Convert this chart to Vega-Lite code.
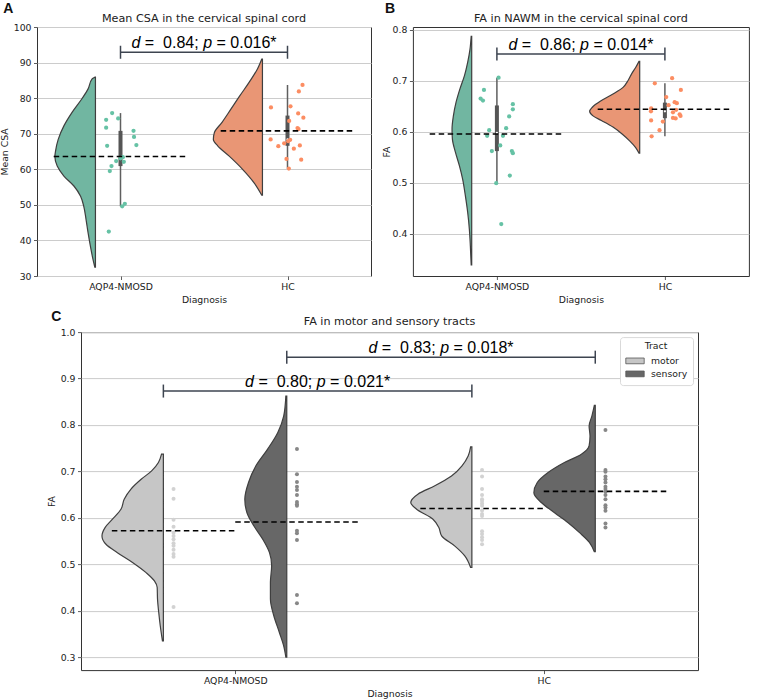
{
  "$schema": "https://vega.github.io/schema/vega-lite/v6.json",
  "background": "white",
  "padding": {"left": 0, "top": 2, "right": 0, "bottom": 0},
  "datasets": {
    "vio": [
      {"p":"A","g":"AQP4-NMOSD","v":85.9,"w":0.004},{"p":"A","g":"AQP4-NMOSD","v":85.4,"w":0.020},{"p":"A","g":"AQP4-NMOSD","v":82.6,"w":0.044},{"p":"A","g":"AQP4-NMOSD","v":79.9,"w":0.080},{"p":"A","g":"AQP4-NMOSD","v":76.0,"w":0.140},{"p":"A","g":"AQP4-NMOSD","v":72.2,"w":0.189},{"p":"A","g":"AQP4-NMOSD","v":68.4,"w":0.223},{"p":"A","g":"AQP4-NMOSD","v":65.1,"w":0.239},{"p":"A","g":"AQP4-NMOSD","v":63.6,"w":0.243},{"p":"A","g":"AQP4-NMOSD","v":60.9,"w":0.229},{"p":"A","g":"AQP4-NMOSD","v":58.1,"w":0.189},{"p":"A","g":"AQP4-NMOSD","v":55.3,"w":0.129},{"p":"A","g":"AQP4-NMOSD","v":52.4,"w":0.089},{"p":"A","g":"AQP4-NMOSD","v":49.6,"w":0.070},{"p":"A","g":"AQP4-NMOSD","v":45.8,"w":0.056},{"p":"A","g":"AQP4-NMOSD","v":42.1,"w":0.044},{"p":"A","g":"AQP4-NMOSD","v":38.3,"w":0.030},{"p":"A","g":"AQP4-NMOSD","v":34.5,"w":0.014},{"p":"A","g":"AQP4-NMOSD","v":32.5,"w":0.004},
      {"p":"A","g":"HC","v":91.0,"w":0.004},{"p":"A","g":"HC","v":88.2,"w":0.030},{"p":"A","g":"HC","v":84.5,"w":0.079},{"p":"A","g":"HC","v":80.7,"w":0.135},{"p":"A","g":"HC","v":76.9,"w":0.189},{"p":"A","g":"HC","v":73.2,"w":0.242},{"p":"A","g":"HC","v":70.3,"w":0.288},{"p":"A","g":"HC","v":68.4,"w":0.294},{"p":"A","g":"HC","v":66.6,"w":0.268},{"p":"A","g":"HC","v":63.7,"w":0.199},{"p":"A","g":"HC","v":60.0,"w":0.119},{"p":"A","g":"HC","v":56.2,"w":0.050},{"p":"A","g":"HC","v":52.7,"w":0.004},
      {"p":"B","g":"AQP4-NMOSD","v":0.787,"w":0.003},{"p":"B","g":"AQP4-NMOSD","v":0.762,"w":0.010},{"p":"B","g":"AQP4-NMOSD","v":0.736,"w":0.024},{"p":"B","g":"AQP4-NMOSD","v":0.710,"w":0.043},{"p":"B","g":"AQP4-NMOSD","v":0.684,"w":0.070},{"p":"B","g":"AQP4-NMOSD","v":0.658,"w":0.093},{"p":"B","g":"AQP4-NMOSD","v":0.631,"w":0.109},{"p":"B","g":"AQP4-NMOSD","v":0.605,"w":0.117},{"p":"B","g":"AQP4-NMOSD","v":0.586,"w":0.115},{"p":"B","g":"AQP4-NMOSD","v":0.560,"w":0.097},{"p":"B","g":"AQP4-NMOSD","v":0.533,"w":0.073},{"p":"B","g":"AQP4-NMOSD","v":0.507,"w":0.054},{"p":"B","g":"AQP4-NMOSD","v":0.475,"w":0.038},{"p":"B","g":"AQP4-NMOSD","v":0.442,"w":0.024},{"p":"B","g":"AQP4-NMOSD","v":0.409,"w":0.014},{"p":"B","g":"AQP4-NMOSD","v":0.376,"w":0.008},{"p":"B","g":"AQP4-NMOSD","v":0.339,"w":0.003},
      {"p":"B","g":"HC","v":0.738,"w":0.004},{"p":"B","g":"HC","v":0.726,"w":0.024},{"p":"B","g":"HC","v":0.713,"w":0.049},{"p":"B","g":"HC","v":0.700,"w":0.070},{"p":"B","g":"HC","v":0.687,"w":0.099},{"p":"B","g":"HC","v":0.674,"w":0.159},{"p":"B","g":"HC","v":0.661,"w":0.228},{"p":"B","g":"HC","v":0.648,"w":0.282},{"p":"B","g":"HC","v":0.640,"w":0.298},{"p":"B","g":"HC","v":0.631,"w":0.278},{"p":"B","g":"HC","v":0.622,"w":0.228},{"p":"B","g":"HC","v":0.609,"w":0.159},{"p":"B","g":"HC","v":0.595,"w":0.103},{"p":"B","g":"HC","v":0.582,"w":0.060},{"p":"B","g":"HC","v":0.569,"w":0.024},{"p":"B","g":"HC","v":0.558,"w":0.004},
      {"p":"C","g":"AQP4-NMOSD","t":"motor","v":0.737,"w":0.006},{"p":"C","g":"AQP4-NMOSD","t":"motor","v":0.719,"w":0.016},{"p":"C","g":"AQP4-NMOSD","t":"motor","v":0.701,"w":0.038},{"p":"C","g":"AQP4-NMOSD","t":"motor","v":0.683,"w":0.072},{"p":"C","g":"AQP4-NMOSD","t":"motor","v":0.662,"w":0.105},{"p":"C","g":"AQP4-NMOSD","t":"motor","v":0.640,"w":0.127},{"p":"C","g":"AQP4-NMOSD","t":"motor","v":0.619,"w":0.137},{"p":"C","g":"AQP4-NMOSD","t":"motor","v":0.597,"w":0.165},{"p":"C","g":"AQP4-NMOSD","t":"motor","v":0.579,"w":0.189},{"p":"C","g":"AQP4-NMOSD","t":"motor","v":0.561,"w":0.199},{"p":"C","g":"AQP4-NMOSD","t":"motor","v":0.543,"w":0.186},{"p":"C","g":"AQP4-NMOSD","t":"motor","v":0.525,"w":0.149},{"p":"C","g":"AQP4-NMOSD","t":"motor","v":0.504,"w":0.100},{"p":"C","g":"AQP4-NMOSD","t":"motor","v":0.482,"w":0.056},{"p":"C","g":"AQP4-NMOSD","t":"motor","v":0.464,"w":0.029},{"p":"C","g":"AQP4-NMOSD","t":"motor","v":0.450,"w":0.020},{"p":"C","g":"AQP4-NMOSD","t":"motor","v":0.425,"w":0.019},{"p":"C","g":"AQP4-NMOSD","t":"motor","v":0.396,"w":0.015},{"p":"C","g":"AQP4-NMOSD","t":"motor","v":0.367,"w":0.010},{"p":"C","g":"AQP4-NMOSD","t":"motor","v":0.335,"w":0.003},
      {"p":"C","g":"AQP4-NMOSD","t":"sensory","v":0.862,"w":0.003},{"p":"C","g":"AQP4-NMOSD","t":"sensory","v":0.819,"w":0.010},{"p":"C","g":"AQP4-NMOSD","t":"sensory","v":0.784,"w":0.029},{"p":"C","g":"AQP4-NMOSD","t":"sensory","v":0.748,"w":0.062},{"p":"C","g":"AQP4-NMOSD","t":"sensory","v":0.712,"w":0.100},{"p":"C","g":"AQP4-NMOSD","t":"sensory","v":0.676,"w":0.124},{"p":"C","g":"AQP4-NMOSD","t":"sensory","v":0.640,"w":0.136},{"p":"C","g":"AQP4-NMOSD","t":"sensory","v":0.611,"w":0.129},{"p":"C","g":"AQP4-NMOSD","t":"sensory","v":0.583,"w":0.107},{"p":"C","g":"AQP4-NMOSD","t":"sensory","v":0.554,"w":0.078},{"p":"C","g":"AQP4-NMOSD","t":"sensory","v":0.525,"w":0.056},{"p":"C","g":"AQP4-NMOSD","t":"sensory","v":0.497,"w":0.049},{"p":"C","g":"AQP4-NMOSD","t":"sensory","v":0.461,"w":0.053},{"p":"C","g":"AQP4-NMOSD","t":"sensory","v":0.425,"w":0.053},{"p":"C","g":"AQP4-NMOSD","t":"sensory","v":0.389,"w":0.042},{"p":"C","g":"AQP4-NMOSD","t":"sensory","v":0.353,"w":0.024},{"p":"C","g":"AQP4-NMOSD","t":"sensory","v":0.324,"w":0.010},{"p":"C","g":"AQP4-NMOSD","t":"sensory","v":0.300,"w":0.003},
      {"p":"C","g":"HC","t":"motor","v":0.753,"w":0.004},{"p":"C","g":"HC","t":"motor","v":0.733,"w":0.012},{"p":"C","g":"HC","t":"motor","v":0.712,"w":0.032},{"p":"C","g":"HC","t":"motor","v":0.690,"w":0.066},{"p":"C","g":"HC","t":"motor","v":0.669,"w":0.120},{"p":"C","g":"HC","t":"motor","v":0.651,"w":0.175},{"p":"C","g":"HC","t":"motor","v":0.633,"w":0.198},{"p":"C","g":"HC","t":"motor","v":0.619,"w":0.180},{"p":"C","g":"HC","t":"motor","v":0.597,"w":0.126},{"p":"C","g":"HC","t":"motor","v":0.579,"w":0.107},{"p":"C","g":"HC","t":"motor","v":0.561,"w":0.098},{"p":"C","g":"HC","t":"motor","v":0.539,"w":0.055},{"p":"C","g":"HC","t":"motor","v":0.518,"w":0.023},{"p":"C","g":"HC","t":"motor","v":0.493,"w":0.004},
      {"p":"C","g":"HC","t":"sensory","v":0.842,"w":0.003},{"p":"C","g":"HC","t":"sensory","v":0.819,"w":0.011},{"p":"C","g":"HC","t":"sensory","v":0.798,"w":0.020},{"p":"C","g":"HC","t":"sensory","v":0.776,"w":0.017},{"p":"C","g":"HC","t":"sensory","v":0.755,"w":0.020},{"p":"C","g":"HC","t":"sensory","v":0.737,"w":0.045},{"p":"C","g":"HC","t":"sensory","v":0.719,"w":0.100},{"p":"C","g":"HC","t":"sensory","v":0.697,"w":0.154},{"p":"C","g":"HC","t":"sensory","v":0.676,"w":0.188},{"p":"C","g":"HC","t":"sensory","v":0.654,"w":0.199},{"p":"C","g":"HC","t":"sensory","v":0.633,"w":0.175},{"p":"C","g":"HC","t":"sensory","v":0.611,"w":0.132},{"p":"C","g":"HC","t":"sensory","v":0.590,"w":0.089},{"p":"C","g":"HC","t":"sensory","v":0.568,"w":0.051},{"p":"C","g":"HC","t":"sensory","v":0.547,"w":0.019},{"p":"C","g":"HC","t":"sensory","v":0.527,"w":0.003}
    ],
    "pts": [
      {"p":"A","g":"AQP4-NMOSD","v":75.8,"j":-0.05},{"p":"A","g":"AQP4-NMOSD","v":73.9,"j":-0.086},{"p":"A","g":"AQP4-NMOSD","v":74.3,"j":-0.014},{"p":"A","g":"AQP4-NMOSD","v":71.7,"j":-0.086},{"p":"A","g":"AQP4-NMOSD","v":70.8,"j":0.078},{"p":"A","g":"AQP4-NMOSD","v":69.1,"j":0.081},{"p":"A","g":"AQP4-NMOSD","v":66.8,"j":0.095},{"p":"A","g":"AQP4-NMOSD","v":66.6,"j":-0.080},{"p":"A","g":"AQP4-NMOSD","v":63.1,"j":0.0},{"p":"A","g":"AQP4-NMOSD","v":63.4,"j":0.014},{"p":"A","g":"AQP4-NMOSD","v":62.3,"j":-0.026},{"p":"A","g":"AQP4-NMOSD","v":62.1,"j":0.020},{"p":"A","g":"AQP4-NMOSD","v":60.9,"j":-0.054},{"p":"A","g":"AQP4-NMOSD","v":59.5,"j":-0.064},{"p":"A","g":"AQP4-NMOSD","v":49.6,"j":0.010},{"p":"A","g":"AQP4-NMOSD","v":50.3,"j":0.026},{"p":"A","g":"AQP4-NMOSD","v":42.5,"j":-0.070},
      {"p":"A","g":"HC","v":83.7,"j":0.090},{"p":"A","g":"HC","v":81.9,"j":0.068},{"p":"A","g":"HC","v":77.7,"j":0.018},{"p":"A","g":"HC","v":77.4,"j":-0.099},{"p":"A","g":"HC","v":75.7,"j":0.064},{"p":"A","g":"HC","v":74.5,"j":0.095},{"p":"A","g":"HC","v":73.6,"j":0.010},{"p":"A","g":"HC","v":71.6,"j":0.060},{"p":"A","g":"HC","v":71.3,"j":0.066},{"p":"A","g":"HC","v":68.4,"j":-0.101},{"p":"A","g":"HC","v":68.3,"j":0.016},{"p":"A","g":"HC","v":67.9,"j":0.004},{"p":"A","g":"HC","v":67.3,"j":-0.020},{"p":"A","g":"HC","v":66.7,"j":0.074},{"p":"A","g":"HC","v":66.5,"j":-0.055},{"p":"A","g":"HC","v":65.8,"j":0.038},{"p":"A","g":"HC","v":62.9,"j":-0.006},{"p":"A","g":"HC","v":62.7,"j":0.082},{"p":"A","g":"HC","v":60.2,"j":0.008},
      {"p":"B","g":"AQP4-NMOSD","v":0.706,"j":0.010},{"p":"B","g":"AQP4-NMOSD","v":0.682,"j":-0.077},{"p":"B","g":"AQP4-NMOSD","v":0.665,"j":-0.097},{"p":"B","g":"AQP4-NMOSD","v":0.661,"j":-0.083},{"p":"B","g":"AQP4-NMOSD","v":0.654,"j":0.095},{"p":"B","g":"AQP4-NMOSD","v":0.644,"j":0.095},{"p":"B","g":"AQP4-NMOSD","v":0.630,"j":0.073},{"p":"B","g":"AQP4-NMOSD","v":0.607,"j":0.055},{"p":"B","g":"AQP4-NMOSD","v":0.603,"j":-0.046},{"p":"B","g":"AQP4-NMOSD","v":0.592,"j":-0.058},{"p":"B","g":"AQP4-NMOSD","v":0.592,"j":0.036},{"p":"B","g":"AQP4-NMOSD","v":0.573,"j":0.020},{"p":"B","g":"AQP4-NMOSD","v":0.562,"j":-0.030},{"p":"B","g":"AQP4-NMOSD","v":0.562,"j":0.089},{"p":"B","g":"AQP4-NMOSD","v":0.558,"j":0.095},{"p":"B","g":"AQP4-NMOSD","v":0.514,"j":0.077},{"p":"B","g":"AQP4-NMOSD","v":0.499,"j":-0.004},{"p":"B","g":"AQP4-NMOSD","v":0.419,"j":0.026},
      {"p":"B","g":"HC","v":0.705,"j":0.043},{"p":"B","g":"HC","v":0.695,"j":-0.060},{"p":"B","g":"HC","v":0.682,"j":0.095},{"p":"B","g":"HC","v":0.668,"j":0.008},{"p":"B","g":"HC","v":0.658,"j":0.058},{"p":"B","g":"HC","v":0.656,"j":0.071},{"p":"B","g":"HC","v":0.652,"j":0.022},{"p":"B","g":"HC","v":0.646,"j":-0.082},{"p":"B","g":"HC","v":0.643,"j":0.067},{"p":"B","g":"HC","v":0.640,"j":-0.083},{"p":"B","g":"HC","v":0.638,"j":0.048},{"p":"B","g":"HC","v":0.634,"j":0.088},{"p":"B","g":"HC","v":0.631,"j":0.093},{"p":"B","g":"HC","v":0.627,"j":0.048},{"p":"B","g":"HC","v":0.626,"j":0.064},{"p":"B","g":"HC","v":0.622,"j":-0.082},{"p":"B","g":"HC","v":0.620,"j":-0.012},{"p":"B","g":"HC","v":0.603,"j":-0.032},{"p":"B","g":"HC","v":0.591,"j":-0.079},
      {"p":"C","g":"AQP4-NMOSD","t":"motor","v":0.662},{"p":"C","g":"AQP4-NMOSD","t":"motor","v":0.641},{"p":"C","g":"AQP4-NMOSD","t":"motor","v":0.596},{"p":"C","g":"AQP4-NMOSD","t":"motor","v":0.581},{"p":"C","g":"AQP4-NMOSD","t":"motor","v":0.568},{"p":"C","g":"AQP4-NMOSD","t":"motor","v":0.561},{"p":"C","g":"AQP4-NMOSD","t":"motor","v":0.554},{"p":"C","g":"AQP4-NMOSD","t":"motor","v":0.545},{"p":"C","g":"AQP4-NMOSD","t":"motor","v":0.540},{"p":"C","g":"AQP4-NMOSD","t":"motor","v":0.531},{"p":"C","g":"AQP4-NMOSD","t":"motor","v":0.522},{"p":"C","g":"AQP4-NMOSD","t":"motor","v":0.516},{"p":"C","g":"AQP4-NMOSD","t":"motor","v":0.408},
      {"p":"C","g":"AQP4-NMOSD","t":"sensory","v":0.748},{"p":"C","g":"AQP4-NMOSD","t":"sensory","v":0.694},{"p":"C","g":"AQP4-NMOSD","t":"sensory","v":0.677},{"p":"C","g":"AQP4-NMOSD","t":"sensory","v":0.667},{"p":"C","g":"AQP4-NMOSD","t":"sensory","v":0.660},{"p":"C","g":"AQP4-NMOSD","t":"sensory","v":0.649},{"p":"C","g":"AQP4-NMOSD","t":"sensory","v":0.634},{"p":"C","g":"AQP4-NMOSD","t":"sensory","v":0.629},{"p":"C","g":"AQP4-NMOSD","t":"sensory","v":0.626},{"p":"C","g":"AQP4-NMOSD","t":"sensory","v":0.572},{"p":"C","g":"AQP4-NMOSD","t":"sensory","v":0.567},{"p":"C","g":"AQP4-NMOSD","t":"sensory","v":0.552},{"p":"C","g":"AQP4-NMOSD","t":"sensory","v":0.434},{"p":"C","g":"AQP4-NMOSD","t":"sensory","v":0.416},
      {"p":"C","g":"HC","t":"motor","v":0.703},{"p":"C","g":"HC","t":"motor","v":0.689},{"p":"C","g":"HC","t":"motor","v":0.662},{"p":"C","g":"HC","t":"motor","v":0.649},{"p":"C","g":"HC","t":"motor","v":0.640},{"p":"C","g":"HC","t":"motor","v":0.636},{"p":"C","g":"HC","t":"motor","v":0.631},{"p":"C","g":"HC","t":"motor","v":0.626},{"p":"C","g":"HC","t":"motor","v":0.616},{"p":"C","g":"HC","t":"motor","v":0.608},{"p":"C","g":"HC","t":"motor","v":0.604},{"p":"C","g":"HC","t":"motor","v":0.571},{"p":"C","g":"HC","t":"motor","v":0.565},{"p":"C","g":"HC","t":"motor","v":0.558},{"p":"C","g":"HC","t":"motor","v":0.552},{"p":"C","g":"HC","t":"motor","v":0.543},
      {"p":"C","g":"HC","t":"sensory","v":0.789},{"p":"C","g":"HC","t":"sensory","v":0.703},{"p":"C","g":"HC","t":"sensory","v":0.699},{"p":"C","g":"HC","t":"sensory","v":0.689},{"p":"C","g":"HC","t":"sensory","v":0.683},{"p":"C","g":"HC","t":"sensory","v":0.676},{"p":"C","g":"HC","t":"sensory","v":0.667},{"p":"C","g":"HC","t":"sensory","v":0.662},{"p":"C","g":"HC","t":"sensory","v":0.656},{"p":"C","g":"HC","t":"sensory","v":0.649},{"p":"C","g":"HC","t":"sensory","v":0.640},{"p":"C","g":"HC","t":"sensory","v":0.627},{"p":"C","g":"HC","t":"sensory","v":0.622},{"p":"C","g":"HC","t":"sensory","v":0.615},{"p":"C","g":"HC","t":"sensory","v":0.588},{"p":"C","g":"HC","t":"sensory","v":0.579}
    ],
    "means": [
      {"p":"A","g":"AQP4-NMOSD","m":63.6},{"p":"A","g":"HC","m":70.8},
      {"p":"B","g":"AQP4-NMOSD","m":0.5955},{"p":"B","g":"HC","m":0.644},
      {"p":"C","g":"AQP4-NMOSD","t":"motor","m":0.572},{"p":"C","g":"AQP4-NMOSD","t":"sensory","m":0.591},
      {"p":"C","g":"HC","t":"motor","m":0.620},{"p":"C","g":"HC","t":"sensory","m":0.657}
    ],
    "br": [
      {"p":"A","y":92.9,"dv":"0.84","pv":"0.016*"},
      {"p":"B","y":0.7524,"dv":"0.86","pv":"0.014*"},
      {"p":"C","t":"sensory","y":0.946,"dv":"0.83","pv":"0.018*"},
      {"p":"C","t":"motor","y":0.873,"dv":"0.80","pv":"0.021*"}
    ]
  },
  "config": {
    "font": "DejaVu Sans",
    "view": {"stroke": "#333333", "strokeWidth": 1},
    "axis": {
      "labelFont": "DejaVu Sans", "labelFontSize": 9.3, "labelColor": "#222222", "labelOverlap": false,
      "titleFont": "DejaVu Sans", "titleFontSize": 9.3, "titleFontWeight": "normal", "titleColor": "#222222",
      "tickColor": "#333333", "tickSize": 3.5, "tickWidth": 0.8, "domain": false,
      "gridColor": "#cccccc", "gridWidth": 1, "labelPadding": 2.5
    },
    "legend": {"labelFont": "DejaVu Sans", "labelFontSize": 9.3, "labelColor": "#222222", "titleFont": "DejaVu Sans", "titleFontSize": 9.3, "titleFontWeight": "normal", "titleColor": "#222222"}
  },
  "resolve": {"scale": {"color": "independent"}, "legend": {"color": "independent"}},
  "spacing": 3.1,
  "vconcat": [
    {
      "spacing": 9.9,
      "resolve": {"scale": {"color": "independent"}, "legend": {"color": "independent"}},
      "hconcat": [
        {
          "title": {"text": "A", "anchor": "start", "frame": "bounds", "font": "Liberation Sans", "fontSize": 14, "fontWeight": "bold", "color": "#111111", "baseline": "alphabetic", "offset": -14.6, "dx": 3},
          "vconcat": [
            {
              "width": 334, "height": 249,
              "title": {"text": "Mean CSA in the cervical spinal cord", "anchor": "middle", "frame": "group", "font": "DejaVu Sans", "fontSize": 11.2, "fontWeight": "normal", "color": "#222222", "baseline": "alphabetic", "offset": -10.2},
              "layer": [
                {
                  "data": {"name": "vio"},
                  "transform": [
                    {"filter": "datum.p == 'A'"},
                    {"calculate": "(datum.g == 'HC' ? 1 : 0) - 0.15", "as": "xr"},
                    {"calculate": "datum.xr - datum.w", "as": "xl"}
                  ],
                  "mark": {"type": "area", "orient": "horizontal", "interpolate": "monotone", "stroke": "#3f3f3f", "strokeWidth": 1.2},
                  "encoding": {
                    "y": {"field": "v", "type": "quantitative", "scale": {"domain": [30, 100], "nice": false, "zero": false},
                          "axis": {"title": "Mean CSA", "values": [30, 40, 50, 60, 70, 80, 90, 100], "tickCount": 12, "grid": true, "titlePadding": 3.5}},
                    "x": {"field": "xl", "type": "quantitative", "stack": null, "scale": {"domain": [-0.5, 1.5], "nice": false, "zero": false},
                          "axis": {"title": "Diagnosis", "values": [0, 1], "labelExpr": "datum.value == 0 ? 'AQP4-NMOSD' : 'HC'", "grid": false, "titlePadding": 4}},
                    "x2": {"field": "xr"},
                    "detail": {"field": "g"},
                    "fill": {"condition": {"test": "datum.g == 'HC'", "value": "#e99675"}, "value": "#71b6a1"}
                  }
                },
                {
                  "data": {"name": "pts"},
                  "transform": [
                    {"filter": "datum.p == 'A'"},
                    {"joinaggregate": [{"op": "q1", "field": "v", "as": "q1"}, {"op": "q3", "field": "v", "as": "q3"}, {"op": "median", "field": "v", "as": "med"}], "groupby": ["g"]},
                    {"filter": "datum.v >= datum.q1 - 1.5 * (datum.q3 - datum.q1) && datum.v <= datum.q3 + 1.5 * (datum.q3 - datum.q1)"},
                    {"aggregate": [{"op": "min", "field": "v", "as": "lo"}, {"op": "max", "field": "v", "as": "hi"}, {"op": "min", "field": "q1", "as": "q1"}, {"op": "max", "field": "q3", "as": "q3"}, {"op": "min", "field": "med", "as": "med"}], "groupby": ["g"]},
                    {"calculate": "datum.g == 'HC' ? 1 : 0", "as": "c"}
                  ],
                  "layer": [
                    {"mark": {"type": "rule", "color": "#5f5f5f", "strokeWidth": 1.5},
                     "encoding": {"x": {"field": "c", "type": "quantitative"}, "y": {"field": "lo", "type": "quantitative"}, "y2": {"field": "hi"}}},
                    {"mark": {"type": "rule", "color": "#555555", "strokeWidth": 4},
                     "encoding": {"x": {"field": "c", "type": "quantitative"}, "y": {"field": "q1", "type": "quantitative"}, "y2": {"field": "q3"}}},
                    {"mark": {"type": "point", "filled": true, "color": "white", "size": 5, "opacity": 1},
                     "encoding": {"x": {"field": "c", "type": "quantitative"}, "y": {"field": "med", "type": "quantitative"}}}
                  ]
                },
                {
                  "data": {"name": "pts"},
                  "transform": [
                    {"filter": "datum.p == 'A'"},
                    {"calculate": "(datum.g == 'HC' ? 1 : 0) + datum.j", "as": "x"}
                  ],
                  "mark": {"type": "circle", "size": 18, "opacity": 1},
                  "encoding": {
                    "x": {"field": "x", "type": "quantitative"},
                    "y": {"field": "v", "type": "quantitative"},
                    "color": {"condition": {"test": "datum.g == 'HC'", "value": "#fc8d62"}, "value": "#66c2a5"}
                  }
                },
                {
                  "data": {"name": "means"},
                  "transform": [
                    {"filter": "datum.p == 'A'"},
                    {"calculate": "(datum.g == 'HC' ? 1 : 0) - 0.4", "as": "x1"},
                    {"calculate": "datum.x1 + 0.8", "as": "x2"}
                  ],
                  "mark": {"type": "rule", "color": "#000000", "strokeWidth": 1.6, "strokeDash": [5.5, 3.5]},
                  "encoding": {"x": {"field": "x1", "type": "quantitative"}, "x2": {"field": "x2"}, "y": {"field": "m", "type": "quantitative"}}
                },
                {
                  "data": {"name": "br"},
                  "transform": [
                    {"filter": "datum.p == 'A'"},
                    {"calculate": "0", "as": "a"},
                    {"calculate": "1", "as": "b"},
                    {"calculate": "(datum.a + datum.b) / 2", "as": "mid"},
                    {"calculate": "datum.dv + ';'", "as": "dt"}
                  ],
                  "encoding": {"x": {"field": "mid", "type": "quantitative"}, "y": {"field": "y", "type": "quantitative"}},
                  "layer": [
                    {"mark": {"type": "rule", "color": "#3d4450", "strokeWidth": 1.5},
                     "encoding": {"x": {"field": "a", "type": "quantitative"}, "x2": {"field": "b"}}},
                    {"transform": [{"fold": ["a", "b"], "as": ["end", "ex"]}],
                     "mark": {"type": "tick", "orient": "vertical", "size": 13, "thickness": 1.5, "color": "#3d4450", "opacity": 1},
                     "encoding": {"x": {"field": "ex", "type": "quantitative"}}},
                    {"mark": {"type": "text", "font": "Liberation Sans", "fontSize": 16, "fontStyle": "italic", "align": "left", "baseline": "alphabetic", "dx": -72.5, "dy": -4, "color": "#000000"}, "encoding": {"text": {"value": "d"}}},
                    {"mark": {"type": "text", "font": "Liberation Sans", "fontSize": 16, "align": "left", "baseline": "alphabetic", "dx": -59.15, "dy": -4, "color": "#000000"}, "encoding": {"text": {"value": "="}}},
                    {"mark": {"type": "text", "font": "Liberation Sans", "fontSize": 16, "align": "left", "baseline": "alphabetic", "dx": -40.9, "dy": -4, "color": "#000000"}, "encoding": {"text": {"field": "dt"}}},
                    {"mark": {"type": "text", "font": "Liberation Sans", "fontSize": 16, "fontStyle": "italic", "align": "left", "baseline": "alphabetic", "dx": -0.85, "dy": -4, "color": "#000000"}, "encoding": {"text": {"value": "p"}}},
                    {"mark": {"type": "text", "font": "Liberation Sans", "fontSize": 16, "align": "left", "baseline": "alphabetic", "dx": 12.5, "dy": -4, "color": "#000000"}, "encoding": {"text": {"value": "="}}},
                    {"mark": {"type": "text", "font": "Liberation Sans", "fontSize": 16, "align": "left", "baseline": "alphabetic", "dx": 26.3, "dy": -4, "color": "#000000"}, "encoding": {"text": {"field": "pv"}}}
                  ]
                }
              ]
            }
          ]
        },
        {
          "title": {"text": "B", "anchor": "start", "frame": "bounds", "font": "Liberation Sans", "fontSize": 14, "fontWeight": "bold", "color": "#111111", "baseline": "alphabetic", "offset": -14.6, "dx": 3},
          "vconcat": [
            {
              "width": 336, "height": 249,
              "title": {"text": "FA in NAWM in the cervical spinal cord", "anchor": "middle", "frame": "group", "font": "DejaVu Sans", "fontSize": 11.2, "fontWeight": "normal", "color": "#222222", "baseline": "alphabetic", "offset": -7.5},
              "layer": [
                {
                  "data": {"name": "vio"},
                  "transform": [
                    {"filter": "datum.p == 'B'"},
                    {"calculate": "(datum.g == 'HC' ? 1 : 0) - 0.15", "as": "xr"},
                    {"calculate": "datum.xr - datum.w", "as": "xl"}
                  ],
                  "mark": {"type": "area", "orient": "horizontal", "interpolate": "monotone", "stroke": "#3f3f3f", "strokeWidth": 1.2},
                  "encoding": {
                    "y": {"field": "v", "type": "quantitative", "scale": {"domain": [0.3171, 0.8053], "nice": false, "zero": false},
                          "axis": {"title": "FA", "values": [0.4, 0.5, 0.6, 0.7, 0.8], "tickCount": 12, "format": ".1f", "grid": true, "titlePadding": 0.5}},
                    "x": {"field": "xl", "type": "quantitative", "stack": null, "scale": {"domain": [-0.5, 1.5], "nice": false, "zero": false},
                          "axis": {"title": "Diagnosis", "values": [0, 1], "labelExpr": "datum.value == 0 ? 'AQP4-NMOSD' : 'HC'", "grid": false, "titlePadding": 4}},
                    "x2": {"field": "xr"},
                    "detail": {"field": "g"},
                    "fill": {"condition": {"test": "datum.g == 'HC'", "value": "#e99675"}, "value": "#71b6a1"}
                  }
                },
                {
                  "data": {"name": "pts"},
                  "transform": [
                    {"filter": "datum.p == 'B'"},
                    {"joinaggregate": [{"op": "q1", "field": "v", "as": "q1"}, {"op": "q3", "field": "v", "as": "q3"}, {"op": "median", "field": "v", "as": "med"}], "groupby": ["g"]},
                    {"filter": "datum.v >= datum.q1 - 1.5 * (datum.q3 - datum.q1) && datum.v <= datum.q3 + 1.5 * (datum.q3 - datum.q1)"},
                    {"aggregate": [{"op": "min", "field": "v", "as": "lo"}, {"op": "max", "field": "v", "as": "hi"}, {"op": "min", "field": "q1", "as": "q1"}, {"op": "max", "field": "q3", "as": "q3"}, {"op": "min", "field": "med", "as": "med"}], "groupby": ["g"]},
                    {"calculate": "datum.g == 'HC' ? 1 : 0", "as": "c"}
                  ],
                  "layer": [
                    {"mark": {"type": "rule", "color": "#5f5f5f", "strokeWidth": 1.5},
                     "encoding": {"x": {"field": "c", "type": "quantitative"}, "y": {"field": "lo", "type": "quantitative"}, "y2": {"field": "hi"}}},
                    {"mark": {"type": "rule", "color": "#555555", "strokeWidth": 4},
                     "encoding": {"x": {"field": "c", "type": "quantitative"}, "y": {"field": "q1", "type": "quantitative"}, "y2": {"field": "q3"}}},
                    {"mark": {"type": "point", "filled": true, "color": "white", "size": 5, "opacity": 1},
                     "encoding": {"x": {"field": "c", "type": "quantitative"}, "y": {"field": "med", "type": "quantitative"}}}
                  ]
                },
                {
                  "data": {"name": "pts"},
                  "transform": [
                    {"filter": "datum.p == 'B'"},
                    {"calculate": "(datum.g == 'HC' ? 1 : 0) + datum.j", "as": "x"}
                  ],
                  "mark": {"type": "circle", "size": 18, "opacity": 1},
                  "encoding": {
                    "x": {"field": "x", "type": "quantitative"},
                    "y": {"field": "v", "type": "quantitative"},
                    "color": {"condition": {"test": "datum.g == 'HC'", "value": "#fc8d62"}, "value": "#66c2a5"}
                  }
                },
                {
                  "data": {"name": "means"},
                  "transform": [
                    {"filter": "datum.p == 'B'"},
                    {"calculate": "(datum.g == 'HC' ? 1 : 0) - 0.4", "as": "x1"},
                    {"calculate": "datum.x1 + 0.8", "as": "x2"}
                  ],
                  "mark": {"type": "rule", "color": "#000000", "strokeWidth": 1.6, "strokeDash": [5.5, 3.5]},
                  "encoding": {"x": {"field": "x1", "type": "quantitative"}, "x2": {"field": "x2"}, "y": {"field": "m", "type": "quantitative"}}
                },
                {
                  "data": {"name": "br"},
                  "transform": [
                    {"filter": "datum.p == 'B'"},
                    {"calculate": "0", "as": "a"},
                    {"calculate": "1", "as": "b"},
                    {"calculate": "(datum.a + datum.b) / 2", "as": "mid"},
                    {"calculate": "datum.dv + ';'", "as": "dt"}
                  ],
                  "encoding": {"x": {"field": "mid", "type": "quantitative"}, "y": {"field": "y", "type": "quantitative"}},
                  "layer": [
                    {"mark": {"type": "rule", "color": "#3d4450", "strokeWidth": 1.5},
                     "encoding": {"x": {"field": "a", "type": "quantitative"}, "x2": {"field": "b"}}},
                    {"transform": [{"fold": ["a", "b"], "as": ["end", "ex"]}],
                     "mark": {"type": "tick", "orient": "vertical", "size": 13, "thickness": 1.5, "color": "#3d4450", "opacity": 1},
                     "encoding": {"x": {"field": "ex", "type": "quantitative"}}},
                    {"mark": {"type": "text", "font": "Liberation Sans", "fontSize": 16, "fontStyle": "italic", "align": "left", "baseline": "alphabetic", "dx": -72.5, "dy": -4, "color": "#000000"}, "encoding": {"text": {"value": "d"}}},
                    {"mark": {"type": "text", "font": "Liberation Sans", "fontSize": 16, "align": "left", "baseline": "alphabetic", "dx": -59.15, "dy": -4, "color": "#000000"}, "encoding": {"text": {"value": "="}}},
                    {"mark": {"type": "text", "font": "Liberation Sans", "fontSize": 16, "align": "left", "baseline": "alphabetic", "dx": -40.9, "dy": -4, "color": "#000000"}, "encoding": {"text": {"field": "dt"}}},
                    {"mark": {"type": "text", "font": "Liberation Sans", "fontSize": 16, "fontStyle": "italic", "align": "left", "baseline": "alphabetic", "dx": -0.85, "dy": -4, "color": "#000000"}, "encoding": {"text": {"value": "p"}}},
                    {"mark": {"type": "text", "font": "Liberation Sans", "fontSize": 16, "align": "left", "baseline": "alphabetic", "dx": 12.5, "dy": -4, "color": "#000000"}, "encoding": {"text": {"value": "="}}},
                    {"mark": {"type": "text", "font": "Liberation Sans", "fontSize": 16, "align": "left", "baseline": "alphabetic", "dx": 26.3, "dy": -4, "color": "#000000"}, "encoding": {"text": {"field": "pv"}}}
                  ]
                }
              ]
            }
          ]
        }
      ]
    },
    {
      "spacing": 0,
      "resolve": {"scale": {"color": "independent"}, "legend": {"color": "independent"}},
      "hconcat": [
        {"width": 8.7, "height": 338, "data": {"values": []}, "mark": "point", "view": {"stroke": null}},
        {
          "title": {"text": "C", "anchor": "start", "frame": "bounds", "font": "Liberation Sans", "fontSize": 14, "fontWeight": "bold", "color": "#111111", "baseline": "alphabetic", "offset": -19, "dx": 4.5},
          "resolve": {"scale": {"color": "independent"}, "legend": {"color": "independent"}},
          "vconcat": [
            {
              "width": 617, "height": 338,
              "title": {"text": "FA in motor and sensory tracts", "anchor": "middle", "frame": "group", "font": "DejaVu Sans", "fontSize": 11.2, "fontWeight": "normal", "color": "#222222", "baseline": "alphabetic", "offset": -8.5},
              "layer": [
                {
                  "data": {"name": "vio"},
                  "transform": [
                    {"filter": "datum.p == 'C'"},
                    {"calculate": "(datum.g == 'HC' ? 1 : 0) + (datum.t == 'motor' ? -0.2 : 0.2) - 0.033", "as": "xr"},
                    {"calculate": "datum.xr - datum.w", "as": "xl"}
                  ],
                  "mark": {"type": "area", "orient": "horizontal", "interpolate": "monotone", "stroke": "#3f3f3f", "strokeWidth": 1.2, "opacity": 1},
                  "encoding": {
                    "y": {"field": "v", "type": "quantitative", "scale": {"domain": [0.272, 1.0], "nice": false, "zero": false},
                          "axis": {"title": "FA", "values": [0.3, 0.4, 0.5, 0.6, 0.7, 0.8, 0.9, 1.0], "tickCount": 12, "format": ".1f", "grid": true, "titlePadding": 4}},
                    "x": {"field": "xl", "type": "quantitative", "stack": null, "scale": {"domain": [-0.5, 1.5], "nice": false, "zero": false},
                          "axis": {"title": "Diagnosis", "values": [0, 1], "labelExpr": "datum.value == 0 ? 'AQP4-NMOSD' : 'HC'", "grid": false, "titlePadding": 4}},
                    "x2": {"field": "xr"},
                    "detail": {"field": "g"},
                    "color": {"field": "t", "type": "nominal", "scale": {"domain": ["motor", "sensory"], "range": ["#c6c6c6", "#676767"]},
                              "legend": {"title": "Tract", "orient": "top-right", "offset": 5, "padding": 5, "fillColor": "white", "strokeColor": "#d9d9d9", "cornerRadius": 3,
                                         "titleAnchor": "middle", "titlePadding": 3, "rowPadding": 1, "labelOffset": 9.5, "symbolOffset": 3.5,
                                         "symbolType": "M-1.6,-0.5L1.6,-0.5L1.6,0.5L-1.6,0.5Z", "symbolSize": 132, "symbolStrokeColor": "#555555", "symbolStrokeWidth": 0.8}}
                  }
                },
                {
                  "data": {"name": "pts"},
                  "transform": [
                    {"filter": "datum.p == 'C'"},
                    {"calculate": "(datum.g == 'HC' ? 1 : 0) + (datum.t == 'motor' ? -0.2 : 0.2)", "as": "x"}
                  ],
                  "mark": {"type": "circle", "size": 16, "opacity": 1},
                  "encoding": {
                    "x": {"field": "x", "type": "quantitative"},
                    "y": {"field": "v", "type": "quantitative"},
                    "fill": {"condition": {"test": "datum.t == 'motor'", "value": "#d2d2d2"}, "value": "#878787"}
                  }
                },
                {
                  "data": {"name": "means"},
                  "transform": [
                    {"filter": "datum.p == 'C'"},
                    {"calculate": "(datum.g == 'HC' ? 1 : 0) + (datum.t == 'motor' ? -0.2 : 0.2) - 0.2", "as": "x1"},
                    {"calculate": "datum.x1 + 0.4", "as": "x2"}
                  ],
                  "mark": {"type": "rule", "color": "#000000", "strokeWidth": 1.6, "strokeDash": [5.5, 3.5]},
                  "encoding": {"x": {"field": "x1", "type": "quantitative"}, "x2": {"field": "x2"}, "y": {"field": "m", "type": "quantitative"}}
                },
                {
                  "data": {"name": "br"},
                  "transform": [
                    {"filter": "datum.p == 'C'"},
                    {"calculate": "(datum.t == 'motor' ? -0.2 : 0.2) - 0.033", "as": "a"},
                    {"calculate": "datum.a + 1", "as": "b"},
                    {"calculate": "(datum.a + datum.b) / 2", "as": "mid"},
                    {"calculate": "datum.dv + ';'", "as": "dt"}
                  ],
                  "encoding": {"x": {"field": "mid", "type": "quantitative"}, "y": {"field": "y", "type": "quantitative"}},
                  "layer": [
                    {"mark": {"type": "rule", "color": "#3d4450", "strokeWidth": 1.5},
                     "encoding": {"x": {"field": "a", "type": "quantitative"}, "x2": {"field": "b"}}},
                    {"transform": [{"fold": ["a", "b"], "as": ["end", "ex"]}],
                     "mark": {"type": "tick", "orient": "vertical", "size": 13, "thickness": 1.5, "color": "#3d4450", "opacity": 1},
                     "encoding": {"x": {"field": "ex", "type": "quantitative"}}},
                    {"mark": {"type": "text", "font": "Liberation Sans", "fontSize": 16, "fontStyle": "italic", "align": "left", "baseline": "alphabetic", "dx": -72.5, "dy": -4, "color": "#000000"}, "encoding": {"text": {"value": "d"}}},
                    {"mark": {"type": "text", "font": "Liberation Sans", "fontSize": 16, "align": "left", "baseline": "alphabetic", "dx": -59.15, "dy": -4, "color": "#000000"}, "encoding": {"text": {"value": "="}}},
                    {"mark": {"type": "text", "font": "Liberation Sans", "fontSize": 16, "align": "left", "baseline": "alphabetic", "dx": -40.9, "dy": -4, "color": "#000000"}, "encoding": {"text": {"field": "dt"}}},
                    {"mark": {"type": "text", "font": "Liberation Sans", "fontSize": 16, "fontStyle": "italic", "align": "left", "baseline": "alphabetic", "dx": -0.85, "dy": -4, "color": "#000000"}, "encoding": {"text": {"value": "p"}}},
                    {"mark": {"type": "text", "font": "Liberation Sans", "fontSize": 16, "align": "left", "baseline": "alphabetic", "dx": 12.5, "dy": -4, "color": "#000000"}, "encoding": {"text": {"value": "="}}},
                    {"mark": {"type": "text", "font": "Liberation Sans", "fontSize": 16, "align": "left", "baseline": "alphabetic", "dx": 26.3, "dy": -4, "color": "#000000"}, "encoding": {"text": {"field": "pv"}}}
                  ]
                }
              ]
            }
          ]
        }
      ]
    }
  ]
}
